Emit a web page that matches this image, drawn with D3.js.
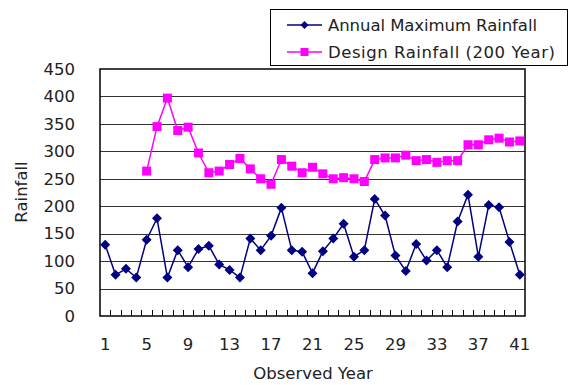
<!DOCTYPE html>
<html>
<head>
<meta charset="utf-8">
<script src="https://cdn.jsdelivr.net/npm/d3@7"></script>
<style>
  html, body { margin: 0; padding: 0; background: #fff; }
  svg { display: block; }
  text { font-family: "DejaVu Sans", "Liberation Sans", sans-serif; fill: #222; }
</style>
</head>
<body>
<svg id="chart" width="569" height="385"></svg>
<script>
// Observed years 1..41
const years = d3.range(1, 42);
const yearTickLabels = [1, 5, 9, 13, 17, 21, 25, 29, 33, 37, 41];
const rainTicks = [0, 50, 100, 150, 200, 250, 300, 350, 400, 450];

// Annual maximum rainfall per observed year
const annualMax = [130, 75, 86, 70, 139, 178, 70, 120, 89, 122,
                   128, 94, 84, 70, 141, 120, 146, 197, 120, 117,
                   78, 118, 141, 168, 108, 120, 213, 183, 110, 82,
                   131, 101, 120, 89, 172, 221, 108, 202, 198, 135, 75];

// Design rainfall (200-year return period), available from year 5
const designYears = d3.range(5, 42);
const designRain = [264, 345, 397, 338, 344, 297, 261, 264, 276, 287,
                    268, 250, 240, 285, 273, 261, 271, 259, 250, 252,
                    250, 245, 285, 288, 288, 293, 283, 285, 280, 283,
                    283, 312, 312, 321, 324, 317, 319];

const seriesNames = ["Annual Maximum Rainfall", "Design Rainfall (200 Year)"];
const seriesColors = ["#000080", "#ff00ff"];
const legendTextWidths = [209, 227];

const svg = d3.select("#chart");
const m = { left: 100, top: 69, right: 525, bottom: 316 };

const x = d3.scaleBand().domain(years).range([m.left, m.right]);
const y = d3.scaleLinear().domain([0, 450]).range([m.bottom, m.top]);
const cx = d => x(d) + x.bandwidth() / 2;

// Horizontal gridlines
svg.append("g").selectAll("line").data(rainTicks.filter(t => t > 0 && t < 450)).join("line")
  .attr("x1", m.left).attr("x2", m.right)
  .attr("y1", d => Math.round(y(d)) + 0.5).attr("y2", d => Math.round(y(d)) + 0.5)
  .attr("stroke", "#333").attr("stroke-width", 1);

// Plot frame
svg.append("rect")
  .attr("x", m.left).attr("y", m.top)
  .attr("width", m.right - m.left).attr("height", m.bottom - m.top)
  .attr("fill", "none").attr("stroke", "#000").attr("stroke-width", 1.5);

// Category boundary ticks along the bottom (inside)
svg.append("g").selectAll("line").data(years.slice(1)).join("line")
  .attr("x1", d => Math.round(x(d)) + 0.5).attr("x2", d => Math.round(x(d)) + 0.5)
  .attr("y1", m.bottom).attr("y2", m.bottom - 6)
  .attr("stroke", "#000").attr("stroke-width", 1);

// Y axis labels
const yAxis = d3.axisLeft(y).tickValues(rainTicks).tickSize(0).tickPadding(0);
const gy = svg.append("g").attr("transform", `translate(${m.left - 25},0)`).call(yAxis);
gy.select(".domain").remove();
gy.selectAll("text").attr("font-size", 16.5).attr("fill", "#222")
  .style("font-family", "'DejaVu Sans', sans-serif");

// X axis labels
const xAxis = d3.axisBottom(x).tickValues(yearTickLabels).tickSize(0).tickPadding(0);
const gx = svg.append("g").attr("transform", `translate(0,${m.bottom + 22})`).call(xAxis);
gx.select(".domain").remove();
gx.selectAll("text").attr("font-size", 16.5).attr("fill", "#222")
  .style("font-family", "'DejaVu Sans', sans-serif");

// Axis titles
svg.append("text").attr("x", 313).attr("y", 379).attr("text-anchor", "middle")
  .attr("font-size", 16.5).text("Observed Year");
svg.append("text").attr("transform", "translate(27,192) rotate(-90)")
  .attr("text-anchor", "middle").attr("font-size", 16.5).text("Rainfall");

// Series lines and markers
const line = d3.line().x(d => cx(d[0])).y(d => y(d[1]));
const annualPts = years.map((yr, i) => [yr, annualMax[i]]);
const designPts = designYears.map((yr, i) => [yr, designRain[i]]);

svg.append("path").datum(designPts).attr("d", line)
  .attr("fill", "none").attr("stroke", seriesColors[1]).attr("stroke-width", 1.5);
svg.append("g").selectAll("rect").data(designPts).join("rect")
  .attr("x", d => cx(d[0]) - 4.5).attr("y", d => y(d[1]) - 4.5)
  .attr("width", 9).attr("height", 9).attr("fill", seriesColors[1]);

svg.append("path").datum(annualPts).attr("d", line)
  .attr("fill", "none").attr("stroke", seriesColors[0]).attr("stroke-width", 1.5);
svg.append("g").selectAll("path").data(annualPts).join("path")
  .attr("transform", d => `translate(${cx(d[0])},${y(d[1])})`)
  .attr("d", "M0,-5L5,0L0,5L-5,0Z").attr("fill", seriesColors[0]);

// Legend
const lg = svg.append("g");
lg.append("rect").attr("x", 270.5).attr("y", 9.5).attr("width", 297).attr("height", 56)
  .attr("fill", "#fff").attr("stroke", "#000").attr("stroke-width", 1);
[0, 1].forEach(i => {
  const yy = 25 + i * 27;
  lg.append("line").attr("x1", 287).attr("x2", 322).attr("y1", yy).attr("y2", yy)
    .attr("stroke", seriesColors[i]).attr("stroke-width", 1.5);
  if (i === 0) {
    lg.append("path").attr("transform", `translate(304.5,${yy})`)
      .attr("d", "M0,-4L4,0L0,4L-4,0Z").attr("fill", seriesColors[0]);
  } else {
    lg.append("rect").attr("x", 300.5).attr("y", yy - 4).attr("width", 8).attr("height", 8)
      .attr("fill", seriesColors[1]);
  }
  lg.append("text").attr("x", 328).attr("y", yy + 6).attr("font-size", 16.5)
    .attr("textLength", legendTextWidths[i]).attr("lengthAdjust", "spacing")
    .text(seriesNames[i]);
});
</script>
</body>
</html>
